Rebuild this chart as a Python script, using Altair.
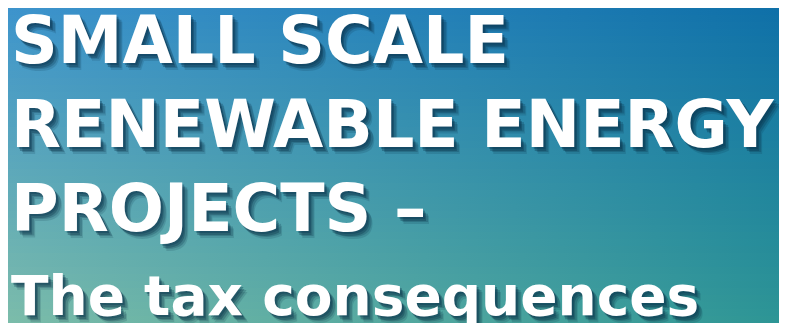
import altair as alt
import pandas as pd

lines = ["SMALL SCALE", "RENEWABLE ENERGY", "PROJECTS –", "The tax consequences"]
line_no = [0, 1, 2, 3]
size_key = ["caps", "caps", "caps", "sub"]

W, H = 771, 315
df = pd.DataFrame({"text": lines, "line": line_no, "kind": size_key})

# background corner colours (style)
TL, TR = (61, 148, 204), (15, 112, 168)
BL, BR = (124, 188, 170), (45, 149, 149)
N = 45

def mix(a, b, t):
    return tuple(a[k] + (b[k] - a[k]) * t for k in range(3))

def hexc(c):
    return "#%02x%02x%02x" % tuple(int(round(v)) for v in c)

strips = pd.DataFrame({"s": list(range(N)), "e": list(range(1, N + 1))})
ys = alt.Y("s:Q", scale=alt.Scale(domain=[0, N], range=[0, H], zero=False, nice=False), axis=None)
bg_layers = []
for i in range(N):
    t = (i + 0.5) / N
    left, right = hexc(mix(TL, BL, t)), hexc(mix(TR, BR, t))
    grad = alt.LinearGradient(gradient="linear", x1=0, y1=0, x2=1, y2=0,
                              stops=[alt.GradientStop(color=left, offset=0),
                                     alt.GradientStop(color=right, offset=1)])
    bg_layers.append(
        alt.Chart(strips.iloc[[i]]).mark_rect(color=grad).encode(
            x=alt.value(0), x2=alt.value(W), y=ys, y2="e:Q"))
background = alt.layer(*bg_layers)

y_enc = alt.Y("line:Q", scale=alt.Scale(domain=[0, 3], range=[55, 307], zero=False, nice=False),
              axis=None)
size_enc = alt.Size("kind:N", scale=alt.Scale(domain=["caps", "sub"], range=[65, 55]), legend=None)

def txt(dx, dy, color, opacity):
    return alt.Chart(df).mark_text(
        align="left", baseline="alphabetic", font="DejaVu Sans", fontWeight="bold",
        dx=dx, dy=dy, color=color, opacity=opacity
    ).encode(x=alt.value(3), y=y_enc, text="text:N", size=size_enc)

text = alt.layer(
    txt(6, 7, "#062a40", 0.15),
    txt(5, 5, "#062a40", 0.22),
    txt(3, 4, "#062a40", 0.3),
    txt(2, 2, "#083450", 0.35),
    txt(0, 0, "#ffffff", 1),
)

chart = alt.layer(background, text).resolve_scale(y="independent").properties(
    width=W, height=H, padding=0,
    autosize=alt.AutoSizeParams(type="fit", contains="padding"),
).configure_view(stroke=None).configure(background="#3d95cd")

chart.save("out.html", embed_options={"renderer": "svg", "actions": False})
